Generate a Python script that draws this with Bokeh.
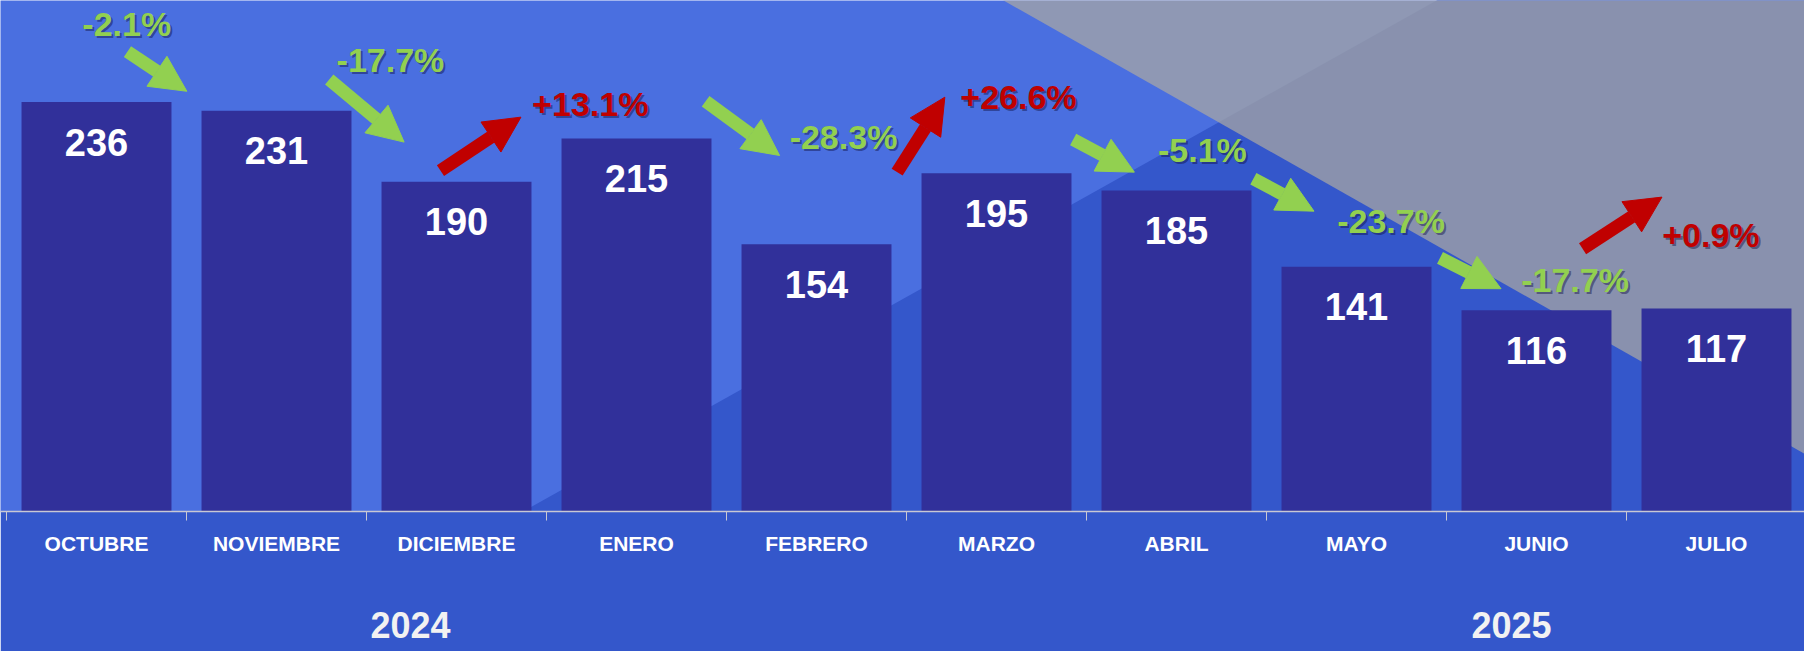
import numpy as np
from bokeh.plotting import figure
from bokeh.models import (Range1d, FixedTicker, ColumnDataSource, Arrow, NormalHead,
                          PolyAnnotation, LinearAxis)
from bokeh.embed import file_html
from bokeh.resources import INLINE
from bokeh.core.properties import value

# ---------------- data ----------------
months = ["OCTUBRE", "NOVIEMBRE", "DICIEMBRE", "ENERO", "FEBRERO",
          "MARZO", "ABRIL", "MAYO", "JUNIO", "JULIO"]
values = [236, 231, 190, 215, 154, 195, 185, 141, 116, 117]
changes = ["-2.1%", "-17.7%", "+13.1%", "-28.3%", "+26.6%",
           "-5.1%", "-23.7%", "-17.7%", "+0.9%"]
years = ["2024", "2025"]

# ---------------- annotation layout (x in category units, y in value units) ----------------
arrow_tail_x = [0.672, 1.793, 2.411, 3.884, 4.948, 5.926, 6.927, 7.964, 8.756]
arrow_tail_y = [265.1, 249.0, 196.5, 236.5, 195.6, 214.4, 191.8, 146.2, 151.4]
arrow_tip_x = [1.002, 2.209, 2.858, 4.295, 5.213, 6.266, 7.264, 8.303, 9.197]
arrow_tip_y = [242.2, 212.9, 227.3, 205.2, 238.8, 195.6, 173.1, 128.4, 181.2]
change_x = [0.668, 2.133, 3.243, 4.650, 5.622, 6.644, 7.692, 8.714, 9.469]
change_y = [280.7, 260.5, 234.6, 215.7, 238.8, 208.6, 167.7, 133.7, 159.1]
year_x = [2.244, 8.361]

# background shapes
dark_xs = [0.974, 8.441, 10.6, 10.6]
dark_ys = [-110.0, 323.3, 323.3, -110.0]
gray_xs = [5.049, 10.6, 10.6]
gray_ys = [323.3, -2.6, 323.3]

LIGHT = "#4a6fe0"
DARK = "#3457cb"
GRAY = "#a9a7a3"
BAR = "#31309a"
GREEN = "#92d050"
RED = "#c00000"
AXIS = "#c8c8d4"
PX_PER_UNIT = 1.735
SANS = "Liberation Sans"

centers = np.arange(len(values)) + 0.5

p = figure(width=1804, height=651,
           x_range=Range1d(-0.03333, 9.98889), y_range=Range1d(0, 294.52),
           output_backend="svg", toolbar_location=None, y_axis_location=None,
           min_border_left=0, min_border_right=0, min_border_top=0, min_border_bottom=140)
p.xgrid.visible = False
p.ygrid.visible = False
p.outline_line_color = None
p.background_fill_color = LIGHT
p.border_fill_color = DARK

p.add_layout(PolyAnnotation(xs=dark_xs, ys=dark_ys, fill_color=DARK, fill_alpha=1.0,
                            line_color=None, level="underlay"))
p.add_layout(PolyAnnotation(xs=gray_xs, ys=gray_ys, fill_color=GRAY, fill_alpha=0.73,
                            line_color=None, level="underlay"))

# month axis
ax = p.xaxis[0]
ax.ticker = FixedTicker(ticks=list(centers), minor_ticks=list(range(len(values) + 1)))
ax.major_label_overrides = {float(c): m for c, m in zip(centers, months)}
ax.major_tick_out = 0
ax.major_tick_in = 0
ax.minor_tick_out = 9
ax.minor_tick_in = 0
ax.minor_tick_line_color = AXIS
ax.axis_line_color = AXIS
ax.axis_line_width = 1.5
ax.major_label_text_font = SANS
ax.major_label_text_font_style = "bold"
ax.major_label_text_font_size = "21px"
ax.major_label_text_color = "white"
ax.major_label_standoff = 11

# year axis
yax = LinearAxis(ticker=FixedTicker(ticks=year_x, minor_ticks=[]),
                 major_label_overrides={float(x): t for x, t in zip(year_x, years)},
                 axis_line_color=None, major_tick_line_color=None, minor_tick_line_color=None,
                 major_tick_out=0, major_tick_in=0, minor_tick_out=0, minor_tick_in=0,
                 major_label_standoff=54,
                 major_label_text_font=SANS, major_label_text_font_style="bold",
                 major_label_text_font_size="36px", major_label_text_color="#f2f2f2")
p.add_layout(yax, "below")

# bars
p.vbar(x=centers, top=values, bottom=0, width=0.833, fill_color=BAR, line_color=None)

# value labels
label_y = np.array(values) - 40 / PX_PER_UNIT
p.text(x=centers, y=label_y, text=[str(v) for v in values],
       text_align="center", text_baseline="middle", text_color="white",
       text_font=value(SANS), text_font_style="bold", text_font_size="38px")

# arrows
for sign, color in (("-", GREEN), ("+", RED)):
    idx = [i for i, c in enumerate(changes) if c.startswith(sign)]
    src = ColumnDataSource(dict(
        x0=[arrow_tail_x[i] for i in idx], y0=[arrow_tail_y[i] for i in idx],
        x1=[arrow_tip_x[i] for i in idx], y1=[arrow_tip_y[i] for i in idx]))
    p.add_layout(Arrow(x_start="x0", y_start="y0", x_end="x1", y_end="y1", source=src,
                       line_color=color, line_width=13,
                       end=NormalHead(size=36, fill_color=color, line_color=color, line_width=1)))

# change labels with shadow
colors = [RED if c.startswith("+") else GREEN for c in changes]
p.text(x=change_x, y=change_y, text=changes, x_offset=2, y_offset=2,
       text_align="center", text_baseline="middle", text_color="#101040", text_alpha=0.45,
       text_font=value(SANS), text_font_style="bold", text_font_size="34px")
p.text(x=change_x, y=change_y, text=changes,
       text_align="center", text_baseline="middle", text_color=colors,
       text_font=value(SANS), text_font_style="bold", text_font_size="34px")

open("out.html", "w").write(file_html(p, INLINE))
